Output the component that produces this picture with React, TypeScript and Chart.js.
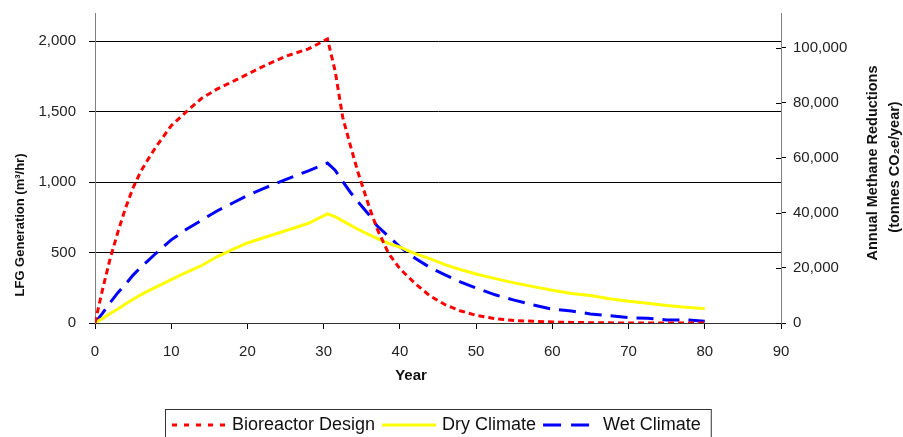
import React, { useEffect, useRef } from 'react';
import { Chart, registerables } from 'chart.js';

Chart.register(...registerables);

// ---- data ----
const years = [0, 1, 2, 3, 4, 5, 6, 7, 8, 10, 12, 14, 16, 18, 20, 22, 25, 28, 30.5, 31.5, 32.5, 33.5, 34.5, 36, 37, 38.5, 40, 42, 44, 46, 48, 50, 52.5, 55, 57.5, 60, 62.5, 65, 67.5, 70, 72.5, 75, 77.5, 80];

const bioreactor = [0, 240, 460, 645, 815, 960, 1075, 1165, 1250, 1400, 1500, 1595, 1660, 1712, 1765, 1820, 1893, 1945, 2015, 1790, 1460, 1260, 1070, 820, 670, 495, 385, 280, 190, 128, 85, 55, 30, 18, 12, 7, 4, 2, 1, 0, 0, 0, 0, 0];

const dryClimate = [0, 33, 67, 100, 135, 168, 200, 228, 255, 308, 360, 408, 470, 520, 568, 603, 655, 708, 775, 755, 725, 695, 665, 625, 600, 566, 538, 492, 455, 413, 378, 348, 315, 285, 258, 232, 210, 195, 172, 155, 140, 125, 112, 102];

const wetClimate = [0, 70, 145, 215, 275, 340, 395, 445, 495, 590, 665, 730, 795, 850, 905, 952, 1018, 1080, 1135, 1085, 1005, 928, 860, 765, 690, 615, 540, 460, 392, 340, 290, 248, 200, 162, 128, 98, 85, 64, 52, 38, 34, 22, 22, 12];

const seriesLabels = ['Bioreactor Design', 'Dry Climate', 'Wet Climate'];
const xTicks = [0, 10, 20, 30, 40, 50, 60, 70, 80, 90];
const leftTicks = [0, 500, 1000, 1500, 2000];
const rightTicks = [0, 20000, 40000, 60000, 80000, 100000];

const leftTitle = 'LFG Generation (m\u00B3/hr)';
const rightTitle1 = 'Annual Methane Reductions';
const rightTitle2 = '(tonnes CO\u2082e/year)';
const xTitle = 'Year';

const FONT = "'Liberation Sans', Arial, Helvetica, sans-serif";

const fmt = (v: number) => Number(v).toLocaleString('en-US');

const decorPlugin = {
  id: 'decor',
  afterDraw(chart: any) {
    const { ctx, chartArea } = chart;
    ctx.save();
    // inner tick marks of right axis
    const y2 = chart.scales.y2;
    ctx.strokeStyle = '#000';
    ctx.lineWidth = 1;
    y2.ticks.forEach((t: any) => {
      const py = Math.round(y2.getPixelForValue(t.value)) + 0.5;
      ctx.beginPath();
      ctx.moveTo(chartArea.right - 5, py);
      ctx.lineTo(chartArea.right, py);
      ctx.stroke();
    });

    // axis titles
    ctx.fillStyle = '#111';
    ctx.textAlign = 'center';
    ctx.textBaseline = 'middle';
    ctx.font = `bold 13px ${FONT}`;
    ctx.save();
    ctx.translate(20, chartArea.top + 212);
    ctx.rotate(-Math.PI / 2);
    ctx.fillText(leftTitle, 0, 0);
    ctx.restore();

    ctx.font = `bold 14.5px ${FONT}`;
    ctx.save();
    ctx.translate(chartArea.right + 92, chartArea.top + 150);
    ctx.rotate(-Math.PI / 2);
    ctx.fillText(rightTitle1, 0, 0);
    ctx.restore();
    ctx.save();
    ctx.translate(chartArea.right + 114, chartArea.top + 154);
    ctx.rotate(-Math.PI / 2);
    ctx.fillText(rightTitle2, 0, 0);
    ctx.restore();

    ctx.font = `bold 15px ${FONT}`;
    ctx.fillText(xTitle, chartArea.left + 316, chartArea.bottom + 53);

    // legend
    ctx.font = `18px ${FONT}`;
    const items = chart.data.datasets.map((ds: any) => ({
      label: ds.label,
      color: ds.borderColor,
      dash: ds.legendDash || [],
      w: ctx.measureText(ds.label).width,
    }));
    const sampleW = 54, gap = 6, itemGap = 7, padL = 7, padR = 10;
    let total = padL + padR + itemGap * (items.length - 1);
    items.forEach((it: any) => { total += sampleW + gap + it.w; });
    const cx = (chartArea.left + chartArea.right) / 2;
    const left = Math.round(cx - total / 2);
    const top = chartArea.bottom + 86;
    const ty = chartArea.bottom + 102;
    ctx.strokeStyle = '#333';
    ctx.lineWidth = 1;
    ctx.setLineDash([]);
    ctx.strokeRect(left + 0.5, top + 0.5, total, 40);
    let x = left + padL;
    items.forEach((it: any) => {
      ctx.save();
      ctx.strokeStyle = it.color;
      ctx.lineWidth = 3;
      ctx.setLineDash(it.dash);
      ctx.beginPath();
      ctx.moveTo(x, ty);
      ctx.lineTo(x + sampleW, ty);
      ctx.stroke();
      ctx.restore();
      x += sampleW + gap;
      ctx.fillStyle = '#111';
      ctx.textAlign = 'left';
      ctx.textBaseline = 'middle';
      ctx.fillText(it.label, x, ty);
      x += it.w + itemGap;
    });
    ctx.restore();
  },
};

const noPad = (s: any) => {
  s.paddingTop = 0;
  s.paddingBottom = 0;
  s.paddingLeft = 0;
  s.paddingRight = 0;
};

export default function App() {
  const ref = useRef<HTMLCanvasElement>(null);

  useEffect(() => {
    if (!ref.current) return;
    const mk = (vals: number[]) => years.map((x, i) => ({ x, y: vals[i] }));
    const chart = new Chart(ref.current, {
      type: 'line',
      data: {
        datasets: [
          {
            label: seriesLabels[0],
            data: mk(bioreactor),
            borderColor: '#ff0000',
            borderWidth: 3,
            borderDash: [6, 4],
            legendDash: [5, 7],
            pointRadius: 0,
            tension: 0,
            yAxisID: 'y',
          } as any,
          {
            label: seriesLabels[1],
            data: mk(dryClimate),
            borderColor: '#ffff00',
            borderWidth: 3,
            legendDash: [],
            pointRadius: 0,
            tension: 0,
            yAxisID: 'y',
          } as any,
          {
            label: seriesLabels[2],
            data: mk(wetClimate),
            borderColor: '#0000ff',
            borderWidth: 3,
            borderDash: [17, 9],
            legendDash: [18, 10],
            pointRadius: 0,
            tension: 0,
            yAxisID: 'y',
          } as any,
        ],
      },
      options: {
        responsive: false,
        animation: false,
        layout: { padding: { top: 13, left: 0, right: 0, bottom: 0 } },
        plugins: {
          legend: { display: false },
          tooltip: { enabled: false },
        },
        scales: {
          x: {
            type: 'linear',
            position: 'bottom',
            min: 0,
            max: 90,
            afterBuildTicks: (s: any) => { s.ticks = xTicks.map((v) => ({ value: v })); },
            afterFit: (s: any) => { s.height = 114; noPad(s); },
            grid: { drawOnChartArea: false, tickLength: 6, color: '#000', lineWidth: 1 },
            border: { display: true, color: '#333', width: 1 },
            ticks: {
              font: { family: FONT, size: 15 },
              color: '#222',
              padding: 14,
              maxRotation: 0,
              autoSkip: false,
            },
          },
          y: {
            type: 'linear',
            position: 'left',
            min: 0,
            max: 2200,
            afterBuildTicks: (s: any) => { s.ticks = leftTicks.map((v) => ({ value: v })); },
            afterFit: (s: any) => { s.width = 95; noPad(s); },
            grid: { color: '#000', lineWidth: 1, tickLength: 6, tickColor: '#000' },
            border: { display: true, color: '#808080', width: 1 },
            ticks: {
              font: { family: FONT, size: 15 },
              color: '#222',
              padding: 13,
              callback: (v: any) => fmt(v),
            },
          },
          y2: {
            type: 'linear',
            position: 'right',
            min: 0,
            max: 112600,
            afterBuildTicks: (s: any) => { s.ticks = rightTicks.map((v) => ({ value: v })); },
            afterFit: (s: any) => { s.width = 122; noPad(s); },
            grid: { drawOnChartArea: false, tickLength: 5, color: '#000', lineWidth: 1 },
            border: { display: true, color: '#808080', width: 1 },
            ticks: {
              font: { family: FONT, size: 15 },
              color: '#222',
              padding: 7,
              callback: (v: any) => fmt(v),
            },
          },
        },
      },
      plugins: [decorPlugin],
    });
    return () => chart.destroy();
  }, []);

  return (
    <div style={{ position: 'absolute', left: 0, top: 0, width: 903, height: 437, overflow: 'hidden' }}>
      <canvas ref={ref} width={903} height={437} style={{ width: 903, height: 437, display: 'block' }} />
    </div>
  );
}
